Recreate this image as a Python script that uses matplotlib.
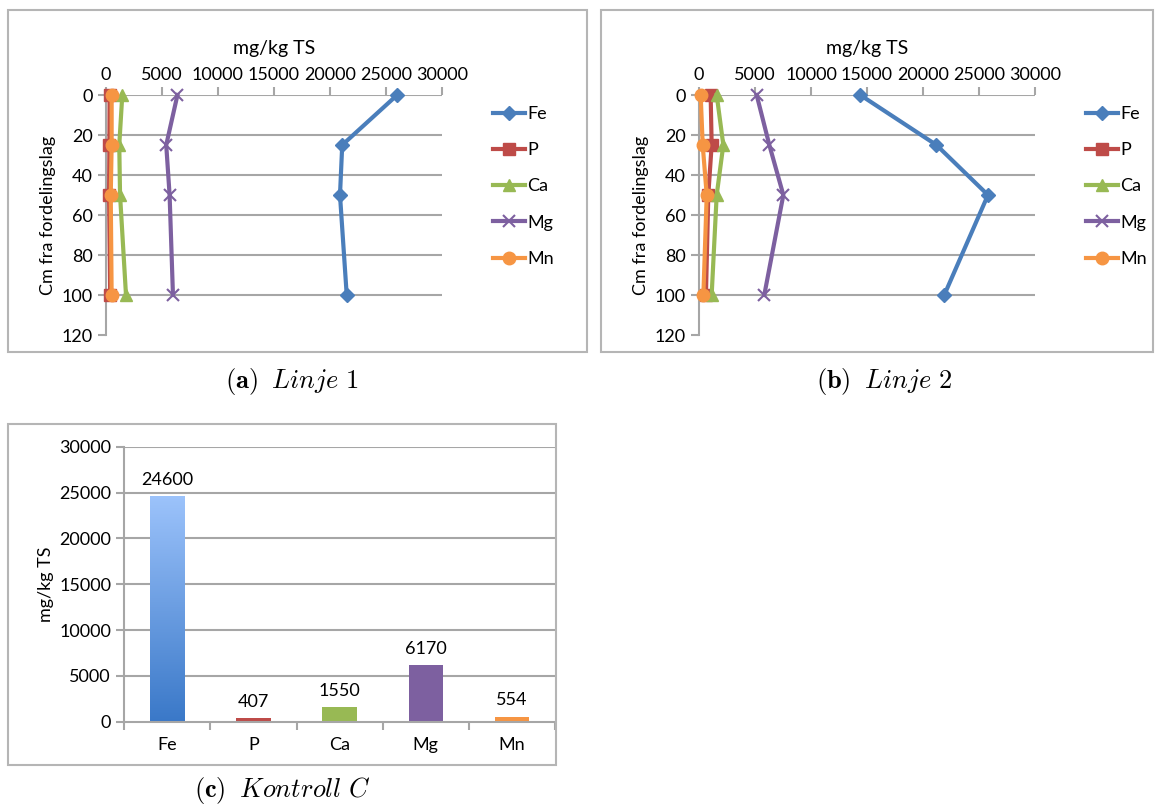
import matplotlib
matplotlib.use("Agg")
import matplotlib.pyplot as plt
import numpy as np
from matplotlib.patches import Rectangle

plt.rcParams['font.family'] = ['Lato', 'DejaVu Sans']
plt.rcParams['mathtext.fontset'] = 'cm'

elements = ["Fe", "P", "Ca", "Mg", "Mn"]
depths = [0, 25, 50, 100]

# Linje 1 (mg/kg TS)
l1_fe = [26000, 21100, 20900, 21500]
l1_p = [350, 330, 300, 400]
l1_ca = [1480, 1210, 1280, 1810]
l1_mg = [6400, 5400, 5700, 6000]
l1_mn = [530, 530, 450, 530]

# Linje 2 (mg/kg TS)
l2_fe = [14400, 21200, 25800, 21900]
l2_p = [1040, 1130, 830, 620]
l2_ca = [1580, 2170, 1580, 1130]
l2_mg = [5150, 6280, 7530, 5830]
l2_mn = [150, 330, 690, 390]

# Kontroll C
kontroll = [24600, 407, 1550, 6170, 554]

colors = {"Fe": "#4a7ebb", "P": "#be4b48", "Ca": "#98b954", "Mg": "#7d60a0", "Mn": "#f69543"}
markers = {"Fe": "D", "P": "s", "Ca": "^", "Mg": "x", "Mn": "o"}
msizes = {"Fe": 7, "P": 8, "Ca": 9, "Mg": 9, "Mn": 9}

W, H = 1156, 806
fig = plt.figure(figsize=(W / 100, H / 100), dpi=100)

def ax_px(left, top, right, bottom):
    return fig.add_axes([left / W, 1 - bottom / H, (right - left) / W, (bottom - top) / H])

def frame(left, top, right, bottom):
    fig.patches.append(Rectangle((left / W, 1 - bottom / H), (right - left) / W, (bottom - top) / H,
                                 transform=fig.transFigure, fill=False, edgecolor="#b5b5b5", lw=1.5))

grid_c = "#a6a6a6"
tick_fs = 13

def line_panel(left, right, series, legend_x):
    ax = ax_px(left, 95, right, 95 + 240)
    for el, vals in zip(elements, series):
        ax.plot(vals, depths, color=colors[el], marker=markers[el], ms=msizes[el], lw=3,
                mew=1.5 if el == "Mg" else 1, label=el, clip_on=False, zorder=3)
    ax.set_xlim(0, 30000)
    ax.set_ylim(120, 0)
    ax.set_xticks(np.arange(0, 30001, 5000))
    ax.set_yticks(np.arange(0, 121, 20))
    ax.xaxis.tick_top()
    ax.xaxis.set_label_position("top")
    ax.set_xlabel("mg/kg TS", fontsize=14, labelpad=9)
    ax.set_ylabel("Cm fra fordelingslag", fontsize=13, labelpad=4)
    for sp in ["right", "bottom", "top"]:
        ax.spines[sp].set_visible(False)
    ax.spines["left"].set_color(grid_c)
    ax.spines["left"].set_linewidth(1.5)
    for yv in range(0, 101, 20):
        ax.axhline(yv, color=grid_c, lw=1.5, zorder=1)
    ax.tick_params(axis="both", colors=grid_c, labelcolor="black", labelsize=tick_fs, length=6, width=1.5)
    ax.tick_params(axis="x", pad=3)
    ax.legend(loc="upper left", bbox_to_anchor=(legend_x / W, 1 - 106 / H), bbox_transform=fig.transFigure,
              frameon=False, fontsize=13, handlelength=1.75, labelspacing=1.12, borderaxespad=0,
              borderpad=0, handletextpad=0.15)
    return ax

frame(8, 10, 587, 352)
frame(601, 10, 1153, 352)
frame(8, 424, 556, 765)

line_panel(105.7, 442, [l1_fe, l1_p, l1_ca, l1_mg, l1_mn], 493)
line_panel(699, 1035, [l2_fe, l2_p, l2_ca, l2_mg, l2_mn], 1086)

# Bar panel
axc = ax_px(124.3, 446.7, 555, 721.7)
x = np.arange(len(elements))
bw = 0.4
for i, (el, v) in enumerate(zip(elements, kontroll)):
    if el == "Fe":
        grad = np.linspace(0, 1, 256).reshape(-1, 1)
        cmap = matplotlib.colors.LinearSegmentedColormap.from_list("fe", ["#3a78c8", "#9cc3fb"])
        axc.imshow(grad, extent=(i - bw / 2, i + bw / 2, 0, v), origin="lower", cmap=cmap,
                   aspect="auto", zorder=2)
    else:
        axc.bar(i, v, width=bw, color=colors[el], zorder=2)
    axc.text(i, v + 900, f"{v}", ha="center", va="bottom", fontsize=13)
axc.set_xlim(-0.5, 4.5)
axc.set_ylim(0, 30000)
axc.set_yticks(np.arange(0, 30001, 5000))
axc.set_xticks(x)
axc.set_xticklabels(elements)
axc.set_xticks(np.arange(-0.5, 5, 1), minor=True)
axc.tick_params(axis="x", which="major", length=0, pad=11, labelsize=tick_fs)
axc.tick_params(axis="x", which="minor", length=6, width=1.5, colors=grid_c)
axc.tick_params(axis="y", length=6, width=1.5, colors=grid_c, labelcolor="black", labelsize=tick_fs)
for yv in range(5000, 30001, 5000):
    axc.axhline(yv, color=grid_c, lw=1.5, zorder=1)
for sp in ["right", "top"]:
    axc.spines[sp].set_visible(False)
for sp in ["left", "bottom"]:
    axc.spines[sp].set_color(grid_c)
    axc.spines[sp].set_linewidth(1.5)
axc.set_ylabel("mg/kg TS", fontsize=13, labelpad=4)

# Captions
fig.text(292 / W, 1 - 381 / H, r"$\mathbf{(a)}$  $\mathit{Linje\ 1}$", ha="center", va="center", fontsize=19)
fig.text(884 / W, 1 - 381 / H, r"$\mathbf{(b)}$  $\mathit{Linje\ 2}$", ha="center", va="center", fontsize=19)
fig.text(282 / W, 1 - 790 / H, r"$\mathbf{(c)}$  $\mathit{Kontroll\ C}$", ha="center", va="center", fontsize=19)

fig.savefig("out.png", dpi=100)
